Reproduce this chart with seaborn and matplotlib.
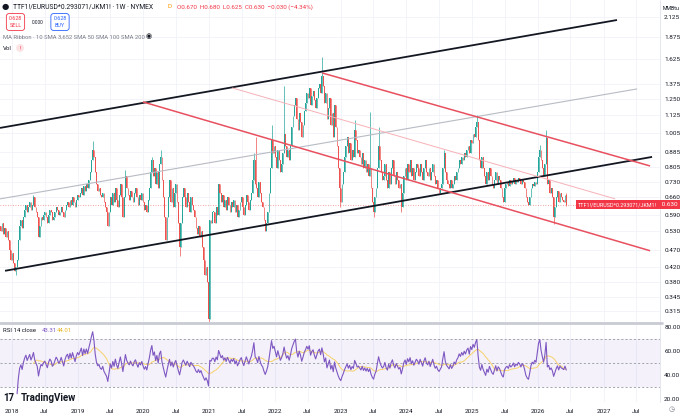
import numpy as np
import pandas as pd
import seaborn as sns
import matplotlib.pyplot as plt
from matplotlib.lines import Line2D

# weekly closes of TTF1!/EURUSD*0.293071/JKM1! ($/MMBtu ratio)
closes = [
    0.55, 0.53, 0.56, 0.52, 0.54, 0.51, 0.53,
    0.50, 0.47, 0.44, 0.46, 0.43, 0.41, 0.42, 0.44,
    0.50, 0.55, 0.57, 0.54, 0.58,
    0.61, 0.63, 0.60, 0.62, 0.64, 0.61, 0.63, 0.66,
    0.62, 0.60, 0.58, 0.51, 0.55, 0.58,
    0.57, 0.59, 0.60, 0.58, 0.56, 0.59, 0.61, 0.60, 0.57, 0.58,
    0.60, 0.62, 0.61, 0.59, 0.60, 0.62, 0.60, 0.58, 0.61, 0.63,
    0.64, 0.62, 0.65, 0.63, 0.66, 0.64, 0.62, 0.65, 0.67, 0.66,
    0.68, 0.70, 0.67, 0.71, 0.69, 0.72, 0.70, 0.74,
    0.78, 0.84, 0.90, 0.86,
    0.78, 0.72, 0.69, 0.70, 0.67, 0.66, 0.68, 0.64, 0.62, 0.60, 0.55, 0.60,
    0.66, 0.63, 0.68, 0.64, 0.70, 0.65, 0.62, 0.67, 0.72, 0.66, 0.58, 0.66, 0.76, 0.70,
    0.67, 0.65, 0.69, 0.66, 0.64, 0.68, 0.70, 0.66, 0.63, 0.67, 0.65, 0.68,
    0.64, 0.61, 0.63, 0.60, 0.65, 0.70, 0.78, 0.84,
    0.76, 0.80, 0.72, 0.78, 0.70, 0.82, 0.86, 0.74, 0.66, 0.58, 0.50,
    0.58, 0.66, 0.74, 0.64, 0.70, 0.62, 0.68,
    0.72, 0.64, 0.56, 0.48, 0.56, 0.66, 0.70,
    0.66, 0.62, 0.68, 0.64, 0.60, 0.66, 0.63, 0.61,
    0.58, 0.54, 0.52, 0.55, 0.51, 0.53,
    0.48, 0.44, 0.40, 0.42, 0.38, 0.30,
    0.57, 0.56, 0.60,
    0.60, 0.56, 0.62, 0.59,
    0.72, 0.68, 0.64, 0.67, 0.62, 0.65, 0.61, 0.66, 0.63, 0.60, 0.64,
    0.62, 0.65, 0.60, 0.63, 0.58, 0.61, 0.64, 0.66, 0.62, 0.59, 0.63, 0.67, 0.64, 0.61, 0.65, 0.68,
    0.74, 0.84, 0.72, 0.70, 0.66, 0.73, 0.68, 0.64,
    0.62, 0.57, 0.53, 0.56, 0.60, 0.68, 0.80, 0.96, 0.88, 0.92,
    0.86, 0.80, 0.90, 0.84, 0.78, 0.82, 0.88, 1.00, 0.92, 0.86, 0.90, 0.84, 0.92,
    1.04, 1.12, 1.20, 1.26, 1.10, 1.02, 1.14, 1.08, 0.98, 1.06, 1.16,
    1.22, 1.30, 1.26, 1.34, 1.20, 1.28, 1.32, 1.24, 1.18, 1.26, 1.34, 1.38, 1.30, 1.45,
    1.36, 1.22, 1.30, 1.10, 1.18, 1.26, 1.06, 1.14, 0.98, 1.20, 1.04, 0.92,
    0.80, 0.70, 0.64, 0.72, 0.78,
    0.86, 0.92, 0.98, 0.88, 0.94, 0.84, 0.90, 0.86,
    1.02, 0.96, 0.88,
    0.90, 0.86, 0.82, 0.88, 0.80, 0.84, 0.78, 0.82,
    0.76, 0.80,
    0.70, 0.64, 0.60, 0.66, 0.70,
    0.80, 0.92, 0.84, 0.78, 0.74,
    0.76, 0.82, 0.74, 0.70, 0.78, 0.72, 0.80, 0.84, 0.76, 0.72, 0.78, 0.74, 0.70, 0.72,
    0.62, 0.68,
    0.76, 0.80, 0.74, 0.82, 0.78, 0.84, 0.76, 0.80, 0.74, 0.78, 0.82,
    0.80, 0.76, 0.82, 0.78, 0.74, 0.80, 0.84, 0.78, 0.76, 0.80, 0.74, 0.78,
    0.82, 0.76, 0.72, 0.74, 0.70, 0.68,
    0.70, 0.72, 0.80, 0.88, 0.78, 0.74,
    0.72, 0.70, 0.74, 0.70, 0.72, 0.76, 0.74, 0.78,
    0.80, 0.84, 0.82, 0.86, 0.84, 0.88, 0.86, 0.90,
    0.92, 0.88, 0.96, 0.94, 1.00, 0.98, 1.04, 1.08,
    0.96, 0.84, 0.80, 0.86,
    0.80, 0.76, 0.72, 0.78, 0.74, 0.80, 0.76, 0.72, 0.70, 0.74, 0.78, 0.72, 0.76, 0.74,
    0.70, 0.66, 0.64, 0.70,
    0.72, 0.73, 0.71, 0.74, 0.72, 0.73, 0.75, 0.72, 0.74, 0.73, 0.75, 0.74, 0.72, 0.74, 0.73,
    0.70, 0.66, 0.64,
    0.63, 0.66, 0.70, 0.72, 0.71, 0.73, 0.72,
    0.78, 0.86, 0.90, 0.84, 0.80, 0.76,
    0.82, 0.97, 0.72,
    0.74, 0.68, 0.70, 0.66,
    0.58, 0.62,
    0.66, 0.69, 0.64, 0.68, 0.66, 0.65, 0.64, 0.67, 0.63,
]
first_open = 0.56
last_week = '2026-06-08'

# wicks that stick out of the bodies (week index -> price)
wick_highs = {27: 0.67, 74: 0.95, 100: 0.79, 121: 0.86, 128: 0.90, 202: 0.88,
              204: 0.98, 216: 1.06, 226: 1.36, 256: 1.64, 282: 1.09, 294: 1.15,
              301: 1.04, 353: 0.90, 379: 1.13, 429: 0.93, 434: 1.02, 450: 0.68}
wick_lows = {13: 0.40, 166: 0.26, 143: 0.45, 270: 0.62, 297: 0.58, 319: 0.60,
             440: 0.555, 450: 0.625}

# drawn trend lines: (start date, start price, end date, end price)
channel_up_top = ('2017-10-26', 1.037, '2027-03-17', 2.09)
channel_up_bottom = ('2017-11-23', 0.410, '2027-09-28', 0.859)
channel_up_mid = ('2017-10-26', 0.654, '2027-07-07', 1.336)
channel_down_top = ('2022-09-20', 1.482, '2027-09-17', 0.810)
channel_down_bottom = ('2019-12-29', 1.228, '2027-09-17', 0.467)
channel_down_mid = ('2021-05-08', 1.345, '2027-03-07', 0.654)

price_ticks = [2.125, 1.875, 1.625, 1.375, 1.250, 1.125, 1.005, 0.885, 0.805,
               0.730, 0.660, 0.590, 0.530, 0.470, 0.420, 0.380, 0.345, 0.315]
rsi_ticks = [80, 60, 40, 20]
last_price = 0.630

W, H = 680, 416
GREEN, RED = '#26a69a', '#ef5350'
GRID = '#f0f3fa'
TXT = '#131722'
PURPLE, YELLOW = '#7e57c2', '#f7d26a'

dates = pd.date_range(end=last_week, periods=len(closes), freq='7D')
df = pd.DataFrame({'date': dates, 'close': closes})
df['open'] = df['close'].shift(1).fillna(first_open)
df['high'] = df[['open', 'close']].max(axis=1)
df['low'] = df[['open', 'close']].min(axis=1)
for i, v in wick_highs.items():
    df.loc[i, 'high'] = v
for i, v in wick_lows.items():
    df.loc[i, 'low'] = v
df.loc[len(df) - 1, 'open'] = 0.670

# RSI 14 (Wilder) and its 14-bar SMA
delta = df['close'].diff()
gain = delta.clip(lower=0).ewm(alpha=1 / 14, adjust=False).mean()
loss = (-delta.clip(upper=0)).ewm(alpha=1 / 14, adjust=False).mean()
df['rsi'] = 100 - 100 / (1 + gain / loss)
df.loc[:13, 'rsi'] = np.nan
df['rsi_ma'] = df['rsi'].rolling(14).mean()

sns.set_style('white')
plt.rcParams['font.family'] = ['Roboto', 'DejaVu Sans']

fig = plt.figure(figsize=(W / 100, H / 100), dpi=100)
xlim = (pd.Timestamp('2017-10-26'), pd.Timestamp('2027-11-11'))
x_ticks = [pd.Timestamp(f'{y}-{m:02d}-01') for y in range(2018, 2028) for m in (1, 7)]
x_labels = [str(t.year) if t.month == 1 else 'Jul' for t in x_ticks]

def fx(px):
    return px / W

def fy(py):
    return 1 - py / H

ax = fig.add_axes([0, fy(322), fx(660), 322 / H])
ax2 = fig.add_axes([0, fy(402), fx(660), 78 / H])

# ---- price pane
ax.set_yscale('log')
ax.set_xlim(xlim)
ax.set_ylim(0.294, 2.38)
ax.set_yticks(price_ticks)
ax.set_yticklabels([f'{v:.3f}' for v in price_ticks])
ax.yaxis.set_minor_locator(plt.NullLocator())
ax.yaxis.tick_right()
ax.tick_params(axis='y', length=0, labelsize=4.6, labelcolor=TXT, pad=3)
ax.set_xticks(x_ticks)
ax.tick_params(axis='x', length=0, labelbottom=False)
ax.grid(True, color=GRID, lw=0.6)
for s in ['top', 'left', 'bottom']:
    ax.spines[s].set_visible(False)
ax.spines['right'].set_color('#e0e3eb')
ax.spines['right'].set_linewidth(0.6)

colors = np.where(df['close'] >= df['open'], GREEN, RED)
ax.vlines(df['date'], df['low'], df['high'], colors=colors, lw=0.5, zorder=3)
body_lo = df[['open', 'close']].min(axis=1)
body_h = np.maximum((df['close'] - df['open']).abs(), 0.004)
ax.bar(df['date'], body_h, bottom=body_lo, width=4.8, color=colors, lw=0, zorder=3)

def trend(line, **kw):
    d0, p0, d1, p1 = line
    ax.plot([pd.Timestamp(d0), pd.Timestamp(d1)], [p0, p1], solid_capstyle='butt', zorder=4, **kw)

trend(channel_up_top, color='#131722', lw=1.3)
trend(channel_up_bottom, color='#131722', lw=1.3)
trend(channel_up_mid, color='#b8bbc4', lw=0.8)
trend(channel_down_top, color='#e8505f', lw=1.1)
trend(channel_down_bottom, color='#e8505f', lw=1.1)
trend(channel_down_mid, color='#f7b1b7', lw=0.7)

ax.axhline(last_price, color=RED, lw=0.6, ls=(0, (1, 2)), alpha=0.7, zorder=2)
ax.text(fx(578) / fx(660), last_price, 'TTF1!/EURUSD*0.293071/JKM1!', transform=ax.get_yaxis_transform(),
        ha='left', va='center', fontsize=3.9, color='white', zorder=10, clip_on=False,
        bbox=dict(boxstyle='square,pad=0.35', fc='#f23645', ec='none'))
ax.text(1.0, last_price, ' 0.630 ', transform=ax.get_yaxis_transform(),
        ha='left', va='center', fontsize=4.6, color='white', zorder=10, clip_on=False,
        bbox=dict(boxstyle='square,pad=0.35', fc='#f23645', ec='none'))

# ---- RSI pane
ax2.set_xlim(xlim)
ax2.set_ylim(17.5, 82.5)
ax2.axhspan(30, 70, color=PURPLE, alpha=0.08, lw=0)
for lvl in (70, 50, 30):
    ax2.axhline(lvl, color='#9598a1', lw=0.6, ls=(0, (2.5, 2.5)))
sns.lineplot(x=df['date'], y=df['rsi_ma'], ax=ax2, color=YELLOW, lw=0.7)
sns.lineplot(x=df['date'], y=df['rsi'], ax=ax2, color=PURPLE, lw=0.8)
ax2.set_xlabel('')
ax2.set_ylabel('')
ax2.set_yticks(rsi_ticks)
ax2.set_yticklabels([f'{v:.2f}' for v in rsi_ticks])
ax2.yaxis.tick_right()
ax2.tick_params(axis='y', length=0, labelsize=4.6, labelcolor=TXT, pad=3)
ax2.set_xticks(x_ticks)
ax2.set_xticklabels(x_labels)
ax2.tick_params(axis='x', length=0, labelsize=4.6, labelcolor=TXT, pad=5)
ax2.grid(True, axis='x', color=GRID, lw=0.6)
for s in ['top', 'left', 'bottom']:
    ax2.spines[s].set_visible(False)
ax2.spines['right'].set_color('#e0e3eb')
ax2.spines['right'].set_linewidth(0.6)

fig.add_artist(Line2D([0, fx(662)], [fy(323), fy(323)], color='#c8cbd3', lw=2))

# ---- header and labels
fig.text(fx(2), fy(7), '\u25cf', fontsize=6, color=TXT, va='center')
fig.text(fx(13), fy(7), 'TTF1!/EURUSD*0.293071/JKM1! \u00b7 1W \u00b7 NYMEX', fontsize=4.9,
         color=TXT, va='center')
fig.text(fx(167), fy(7), 'D', fontsize=4.6, color='#ff9800', va='center')
fig.text(fx(177), fy(7), 'O0.670  H0.680  L0.625  C0.630  \u22120.030 (\u22124.34%)', fontsize=4.5,
         color='#f23645', va='center')
fig.text(fx(15.5), fy(22), '0.628\nSELL', fontsize=3.9, color='#f23645', ha='center', va='center',
         linespacing=1.5, bbox=dict(boxstyle='round,pad=0.45,rounding_size=0.5', fc='white', ec='#f23645', lw=0.6))
fig.text(fx(38), fy(22), '0.000', fontsize=3.4, color=TXT, ha='center', va='center')
fig.text(fx(60), fy(22), '0.628\nBUY', fontsize=3.9, color='#2962ff', ha='center', va='center',
         linespacing=1.5, bbox=dict(boxstyle='round,pad=0.45,rounding_size=0.5', fc='white', ec='#2962ff', lw=0.6))
fig.text(fx(3), fy(37), 'MA Ribbon \u00b7 10 SMA 3,652 SMA 50 SMA 100 SMA 200', fontsize=4.2,
         color='#787b86', va='center')
fig.text(fx(146), fy(37), '\u25c9', fontsize=5, color=TXT, va='center')
fig.text(fx(3), fy(48), 'Vol', fontsize=4.4, color=TXT, va='center')
fig.text(fx(20), fy(48), '!', fontsize=4.2, color='#f23645', va='center', ha='center',
         bbox=dict(boxstyle='circle,pad=0.25', fc='#fde4e6', ec='none'))
fig.text(fx(663), fy(9), 'MMBtu', fontsize=3.8, color=TXT, va='center')

fig.text(fx(3), fy(331), 'RSI 14 close', fontsize=4.3, color=TXT, va='center')
fig.text(fx(42), fy(331), '43.31', fontsize=4.3, color=PURPLE, va='center')
fig.text(fx(57), fy(331), '44.01', fontsize=4.3, color='#e6b422', va='center')
fig.text(fx(3), fy(398), '17', fontsize=7, color=TXT, va='center', weight='bold')
fig.text(fx(21), fy(398), 'TradingView', fontsize=7, color=TXT, va='center', weight='bold')
fig.text(fx(672), fy(410), '\u25f7', fontsize=5, color='#787b86', va='center', ha='center')

plt.savefig('out.png', dpi=100)
